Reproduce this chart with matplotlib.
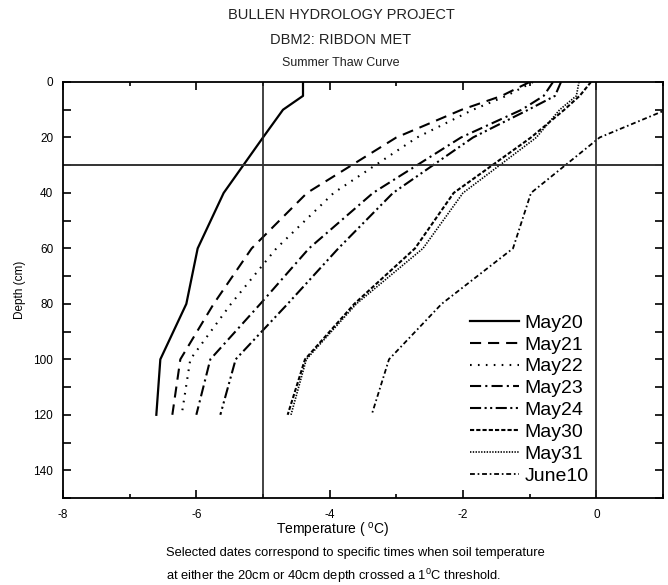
import matplotlib
matplotlib.use("Agg")
import matplotlib.pyplot as plt
from matplotlib.ticker import MultipleLocator

plt.rcParams["font.family"] = ["Liberation Sans", "DejaVu Sans"]
plt.rcParams["mathtext.fontset"] = "custom"
plt.rcParams["mathtext.rm"] = "Liberation Sans"
plt.rcParams["mathtext.it"] = "Liberation Sans"
plt.rcParams["lines.scale_dashes"] = False
plt.rcParams["axes.unicode_minus"] = False

# Soil temperature profiles (deg C) at each probe depth (cm)
depth = [0, 5, 10, 20, 40, 60, 80, 100, 120]
may20 = [-4.40, -4.40, -4.70, -5.00, -5.59, -5.98, -6.15, -6.54, -6.60]
may21 = [-1.00, -1.42, -2.02, -3.00, -4.34, -5.17, -5.74, -6.24, -6.36]
may22 = [-0.95, -1.35, -1.85, -2.69, -3.94, -4.80, -5.48, -6.09, -6.22]
may23 = [-0.65, -0.79, -1.12, -2.03, -3.35, -4.31, -5.04, -5.79, -6.00]
may24 = [-0.53, -0.62, -1.02, -1.85, -3.05, -3.87, -4.63, -5.41, -5.64]
may30 = [-0.08, -0.25, -0.48, -0.98, -2.14, -2.72, -3.63, -4.37, -4.63]
may31 = [-0.26, -0.30, -0.55, -0.90, -2.00, -2.60, -3.60, -4.35, -4.58]
june10 = [1.90, 1.50, 1.05, 0.05, -0.98, -1.25, -2.32, -3.11, -3.37]

labels = ["May20", "May21", "May22", "May23", "May24", "May30", "May31", "June10"]
series = [may20, may21, may22, may23, may24, may30, may31, june10]
styles = [
    "-",
    (0, (8, 5)),
    (0, (1.2, 4.5)),
    (0, (8, 3, 1.5, 3)),
    (0, (8, 2.5, 1.5, 2.5, 1.5, 2.5)),
    (0, (3, 1.5)),
    (0, (1.0, 1.0)),
    (0, (3.5, 2, 1.2, 2)),
]
widths = [1.6, 1.5, 1.5, 1.5, 1.5, 1.5, 1.2, 1.3]

x_ticks = [-8, -6, -4, -2, 0]
y_ticks = [0, 20, 40, 60, 80, 100, 120, 140]
ref_temps = [-5, 0]
ref_depth = 30

fig = plt.figure(figsize=(6.68, 5.85), dpi=100)
ax = fig.add_axes([63 / 668, 1 - 498 / 585, 600 / 668, 416 / 585])

for vals, lab, ls, lw in zip(series, labels, styles, widths):
    ax.plot(vals, depth, color="black", linestyle=ls, linewidth=lw, label=lab)

for t in ref_temps:
    ax.axvline(t, color="#222222", linewidth=1.2)
ax.axhline(ref_depth, color="#333333", linewidth=1.4)

ax.set_xlim(-8, 1)
ax.set_ylim(150, 0)
ax.set_xticks(x_ticks)
ax.xaxis.set_minor_locator(MultipleLocator(1))
ax.set_yticks(y_ticks)
ax.yaxis.set_minor_locator(MultipleLocator(10))
ax.tick_params(axis="both", which="both", direction="in", top=True, right=True,
               width=1.2, labelsize=8.5, colors="black")
ax.tick_params(axis="x", which="major", length=6)
ax.tick_params(axis="x", which="minor", length=3)
ax.tick_params(axis="y", which="both", length=6)
ax.tick_params(axis="x", pad=8)
ax.tick_params(axis="y", pad=7)
for s in ax.spines.values():
    s.set_linewidth(1.3)

ax.set_ylabel("Depth (cm)", fontsize=8.5, labelpad=5)

leg = ax.legend(loc="upper left", bbox_to_anchor=(470 / 668, 1 - 314 / 585),
                bbox_transform=fig.transFigure, frameon=False, fontsize=14,
                handlelength=2.5, handletextpad=0.3, labelspacing=0.22,
                borderpad=0, borderaxespad=0)

fig.text(341 / 668, 1 - 15 / 585, "BULLEN HYDROLOGY PROJECT", ha="center", va="center",
         fontsize=10.5, color="#222222")
fig.text(341 / 668, 1 - 40 / 585, "DBM2: RIBDON MET", ha="center", va="center",
         fontsize=10.5, color="#222222")
fig.text(341 / 668, 1 - 63 / 585, "Summer Thaw Curve", ha="center", va="center",
         fontsize=9, color="#222222")

fig.text(333 / 668, 1 - 530 / 585, r"Temperature ( $^{\mathrm{o}}$C)", ha="center",
         va="center", fontsize=10)
fig.text(166 / 668, 1 - 553 / 585,
         "Selected dates correspond to specific times when soil temperature",
         ha="left", va="center", fontsize=9.3)
fig.text(166 / 668, 1 - 576 / 585,
         r"at either the 20cm or 40cm depth crossed a 1$^{0}$C threshold.",
         ha="left", va="center", fontsize=9.3)

fig.savefig("out.png", dpi=100)
